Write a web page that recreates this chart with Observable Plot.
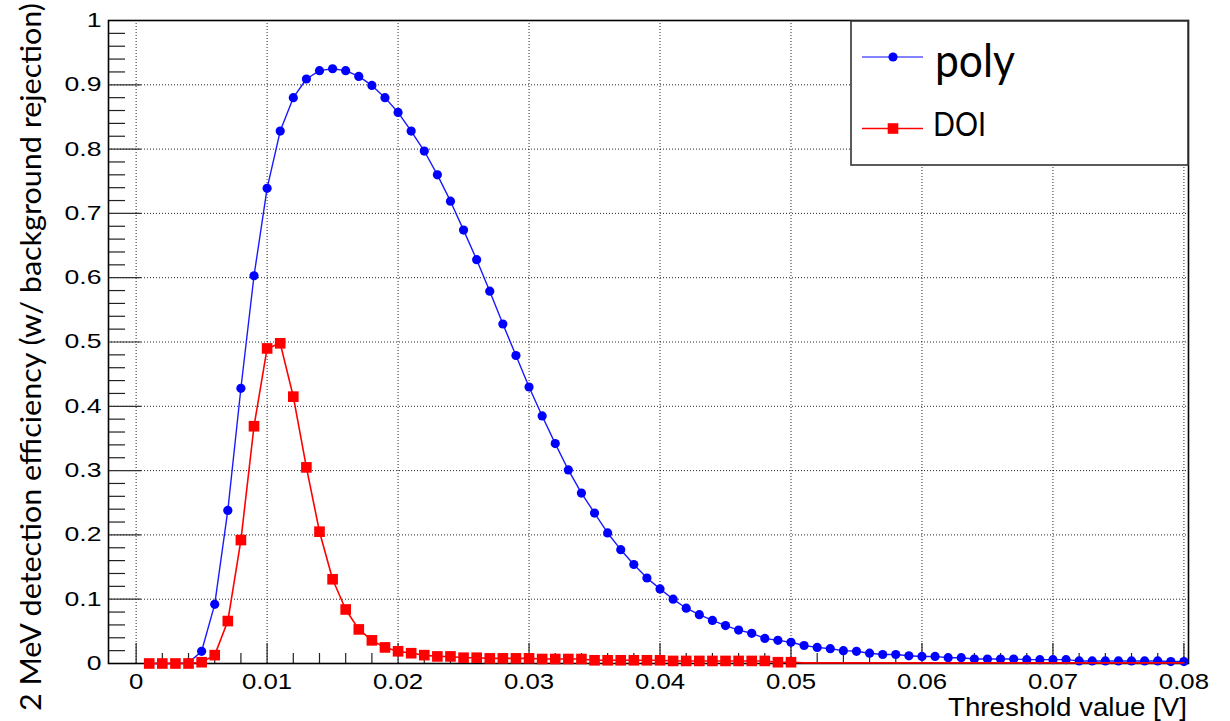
<!DOCTYPE html>
<html>
<head>
<meta charset="utf-8">
<script src="https://cdn.jsdelivr.net/npm/d3@7"></script>
<script src="https://cdn.jsdelivr.net/npm/@observablehq/plot@0.6"></script>
<style>
  html, body { margin: 0; padding: 0; background: #fff; }
  #chart { width: 1230px; height: 721px; position: relative; }
</style>
</head>
<body>
<div id="chart"></div>
<script>
// Threshold values [V]
const thresholds = [
  0.001,0.002,0.003,0.004,0.005,0.006,0.007,0.008,0.009,0.010,
  0.011,0.012,0.013,0.014,0.015,0.016,0.017,0.018,0.019,0.020,
  0.021,0.022,0.023,0.024,0.025,0.026,0.027,0.028,0.029,0.030,
  0.031,0.032,0.033,0.034,0.035,0.036,0.037,0.038,0.039,0.040,
  0.041,0.042,0.043,0.044,0.045,0.046,0.047,0.048,0.049,0.050,
  0.051,0.052,0.053,0.054,0.055,0.056,0.057,0.058,0.059,0.060,
  0.061,0.062,0.063,0.064,0.065,0.066,0.067,0.068,0.069,0.070,
  0.071,0.072,0.073,0.074,0.075,0.076,0.077,0.078,0.079,0.080
];
// "poly" efficiency
const polyEff = [
  0.000,0.000,0.000,0.001,0.019,0.092,0.238,0.428,0.603,0.739,
  0.828,0.880,0.909,0.922,0.925,0.922,0.913,0.899,0.880,0.857,
  0.828,0.797,0.760,0.719,0.674,0.628,0.579,0.528,0.479,0.430,
  0.385,0.342,0.301,0.265,0.234,0.203,0.177,0.154,0.133,0.116,
  0.100,0.086,0.076,0.067,0.059,0.052,0.047,0.039,0.036,0.033,
  0.028,0.025,0.023,0.020,0.019,0.016,0.014,0.014,0.012,0.011,
  0.011,0.009,0.009,0.007,0.007,0.007,0.007,0.006,0.006,0.006,
  0.006,0.004,0.004,0.004,0.004,0.004,0.004,0.004,0.003,0.003
];
// "DOI" efficiency
const doiEff = [
  0.000,0.000,0.000,0.000,0.002,0.013,0.066,0.192,0.369,0.490,
  0.498,0.415,0.305,0.205,0.131,0.084,0.053,0.036,0.025,0.019,
  0.016,0.013,0.011,0.011,0.009,0.009,0.008,0.008,0.008,0.008,
  0.007,0.007,0.007,0.007,0.005,0.005,0.005,0.005,0.005,0.005,
  0.004,0.004,0.004,0.004,0.004,0.004,0.004,0.004,0.002,0.002,
  0.001,0.001,0.001,0.001,0.001,0.001,0.001,0.001,0.001,0.001,
  0.001,0.001,0.001,0.001,0.001,0.001,0.001,0.001,0.001,0.001,
  0.001,0.001,0.001,0.001,0.001,0.001,0.001,0.001,0.001,0.001
];
const doiMarkerLast = 0.050; // DOI markers drawn up to this threshold

const xTicks = [0, 0.01, 0.02, 0.03, 0.04, 0.05, 0.06, 0.07, 0.08];
const xTickLabels = ["0", "0.01", "0.02", "0.03", "0.04", "0.05", "0.06", "0.07", "0.08"];
const yTicks = [0, 0.1, 0.2, 0.3, 0.4, 0.5, 0.6, 0.7, 0.8, 0.9, 1];
const yTickLabels = ["0", "0.1", "0.2", "0.3", "0.4", "0.5", "0.6", "0.7", "0.8", "0.9", "1"];

const xTitle = "Threshold value [V]";
const yTitle = "2 MeV detection efficiency (w/ background rejection)";
const seriesNames = ["poly", "DOI"];

const poly = thresholds.map((t, i) => ({t, v: polyEff[i]}));
const doi = thresholds.map((t, i) => ({t, v: doiEff[i]}));
const doiMarkers = doi.filter(d => d.t <= doiMarkerLast + 1e-9);

const xMinor = d3.range(0, 0.0801, 0.002).filter(v => Math.abs(v / 0.01 - Math.round(v / 0.01)) > 1e-6);
const yMinor = d3.range(0, 1.0001, 0.02).filter(v => Math.abs(v / 0.1 - Math.round(v / 0.1)) > 1e-6);

const W = 1230, H = 721;
const mL = 108, mR = 42, mT = 20, mB = 58;
const frameW = W - mL - mR, frameH = H - mT - mB;

const plot = Plot.plot({
  width: W, height: H,
  marginLeft: mL, marginRight: mR, marginTop: mT, marginBottom: mB,
  style: {fontFamily: "'Liberation Sans', Arial, sans-serif", background: "#fff", color: "#000"},
  x: {domain: [-0.00211, 0.08035], axis: null},
  y: {domain: [0, 1], axis: null},
  marks: [
    // grid
    Plot.ruleX(xTicks, {x: d => d, stroke: "#000", strokeWidth: 1, strokeDasharray: "1,2", strokeOpacity: 0.85}),
    Plot.ruleY(yTicks, {y: d => d, stroke: "#000", strokeWidth: 1, strokeDasharray: "1,2", strokeOpacity: 0.85}),
    // ticks (inside frame)
    Plot.ruleX(xTicks, {x: d => d, insetTop: frameH - 20, stroke: "#222", strokeWidth: 1.2}),
    Plot.ruleX(xMinor, {x: d => d, insetTop: frameH - 10, stroke: "#222", strokeWidth: 1.2}),
    Plot.ruleY(yTicks, {y: d => d, insetRight: frameW - 33, stroke: "#333", strokeWidth: 1.2}),
    Plot.ruleY(yMinor, {y: d => d, insetRight: frameW - 17, stroke: "#222", strokeWidth: 1.2}),
    // tick labels
    Plot.axisX(xTicks, {anchor: "bottom", tickSize: 0, tickPadding: 9, fontSize: 23,
      tickFormat: (d, i) => xTickLabels[i], label: null}),
    Plot.axisY(yTicks, {anchor: "left", tickSize: 0, tickPadding: 7, fontSize: 20,
      tickFormat: (d, i) => yTickLabels[i], label: null}),
    Plot.frame({stroke: "#000", strokeWidth: 1.6}),
    // series
    Plot.line(poly, {x: "t", y: "v", stroke: "#1a1aff", strokeWidth: 1.4}),
    Plot.dot(poly, {x: "t", y: "v", r: 4.6, fill: "#0000ff", stroke: "none"}),
    Plot.line(doi, {x: "t", y: "v", stroke: "#ff0000", strokeWidth: 1.6}),
    Plot.dot(doiMarkers, {x: "t", y: "v", symbol: "square", r: 6, fill: "#ff0000", stroke: "none"})
  ]
});

document.getElementById("chart").appendChild(plot);
const svg = d3.select(plot);

// widen the tick labels like the reference
svg.selectAll('g[aria-label="y-axis tick label"] text').each(function() {
  const t = d3.select(this);
  t.attr("transform", (t.attr("transform") || "") + " scale(1.33,1)");
});
svg.selectAll('g[aria-label="x-axis tick label"] text').each(function() {
  const t = d3.select(this);
  t.attr("transform", (t.attr("transform") || "") + " scale(1.12,1)");
});

// axis titles
svg.append("text")
  .attr("transform", "translate(41,357) rotate(-90)")
  .attr("text-anchor", "middle")
  .attr("font-family", "Lato, 'Open Sans', sans-serif")
  .attr("font-size", 28)
  .attr("textLength", 708)
  .attr("lengthAdjust", "spacingAndGlyphs")
  .attr("fill", "#000")
  .text(yTitle);

svg.append("text")
  .attr("x", 1187).attr("y", 716)
  .attr("text-anchor", "end")
  .attr("font-family", "'Liberation Sans', Arial, sans-serif")
  .attr("font-size", 26)
  .attr("textLength", 239)
  .attr("lengthAdjust", "spacingAndGlyphs")
  .attr("fill", "#000")
  .text(xTitle);

// legend
const lg = svg.append("g").attr("aria-label", "legend");
lg.append("rect").attr("x", 851).attr("y", 21).attr("width", 337).attr("height", 144)
  .attr("fill", "#fff").attr("stroke", "#333").attr("stroke-width", 1.6);
lg.append("line").attr("x1", 862).attr("x2", 923).attr("y1", 57).attr("y2", 57)
  .attr("stroke", "#5a5aff").attr("stroke-width", 1.6);
lg.append("circle").attr("cx", 893).attr("cy", 57).attr("r", 4.6).attr("fill", "#0000ff");
lg.append("text").attr("x", 935).attr("y", 77)
  .attr("text-anchor", "start")
  .attr("font-family", "Lato, 'Open Sans', sans-serif").attr("font-size", 46)
  .attr("textLength", 80).attr("lengthAdjust", "spacingAndGlyphs")
  .attr("fill", "#000").text(seriesNames[0]);
lg.append("line").attr("x1", 862).attr("x2", 923).attr("y1", 128.5).attr("y2", 128.5)
  .attr("stroke", "#ff0000").attr("stroke-width", 1.6);
lg.append("rect").attr("x", 887.7).attr("y", 123.2).attr("width", 10.6).attr("height", 10.6).attr("fill", "#ff0000");
lg.append("text").attr("x", 933).attr("y", 136)
  .attr("text-anchor", "start")
  .attr("font-family", "Lato, 'Open Sans', sans-serif").attr("font-size", 32)
  .attr("textLength", 53).attr("lengthAdjust", "spacingAndGlyphs")
  .attr("fill", "#000").text(seriesNames[1]);
</script>
</body>
</html>
